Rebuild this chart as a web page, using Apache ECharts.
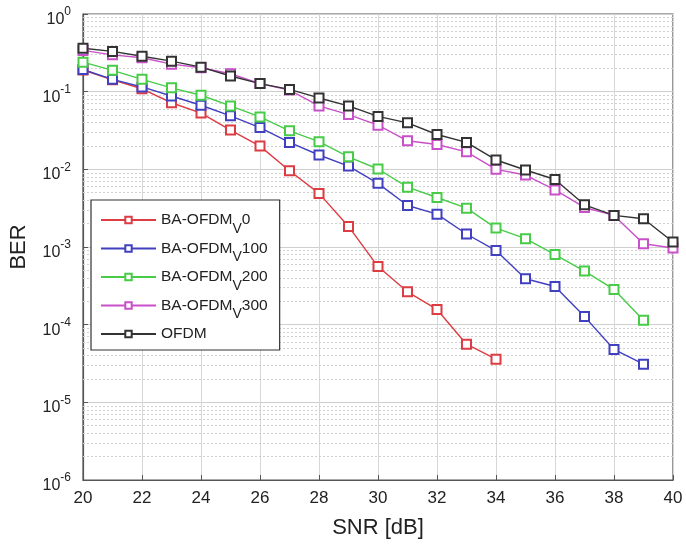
<!DOCTYPE html>
<html>
<head>
<meta charset="utf-8">
<script src="https://cdn.jsdelivr.net/npm/echarts@6/dist/echarts.min.js"></script>
<style>html,body{margin:0;padding:0;background:#fff}#c{width:686px;height:545px}</style>
</head>
<body>
<div id="c"></div>
<script>
const snr = [20,21,22,23,24,25,26,27,28,29,30,31,32,33,34,35,36,37,38,39,40];
const berV0   = [0.19,0.142,0.109,0.072,0.053,0.032,0.0199,0.0096,0.0049,0.00184,0.00056,0.000265,0.000157,0.000056,0.000036];
const berV100 = [0.193,0.144,0.115,0.088,0.0668,0.0488,0.0345,0.0222,0.0153,0.011,0.0066,0.00342,0.00265,0.00147,0.0009,0.00039,0.00031,0.000127,0.000048,0.000031];
const berV200 = [0.24,0.188,0.144,0.112,0.09,0.0655,0.0473,0.0313,0.0227,0.0145,0.0101,0.0059,0.00434,0.00316,0.00175,0.00128,0.0008,0.00049,0.000284,0.000114];
const berV300 = [0.34,0.298,0.273,0.226,0.203,0.17,0.127,0.105,0.0655,0.0507,0.037,0.0233,0.0209,0.0168,0.0100,0.00845,0.00543,0.00323,0.00255,0.0011,0.00097];
const berOFDM = [0.363,0.33,0.286,0.247,0.207,0.159,0.127,0.107,0.083,0.0655,0.048,0.0397,0.0281,0.0222,0.0132,0.0098,0.0074,0.00349,0.00255,0.00231,0.00116];
const names = ['BA-OFDM{s|V}0','BA-OFDM{s|V}100','BA-OFDM{s|V}200','BA-OFDM{s|V}300','OFDM'];
const colors = ['#dc3c42','#4040c0','#48cc48','#c850c8','#333333'];
const minorVals = [];
for (let e = -6; e < 0; e++) for (let m = 2; m <= 9; m++) minorVals.push(m * Math.pow(10, e));

const allData = [berV0, berV100, berV200, berV300, berOFDM];
const series = allData.map((arr, i) => ({
  name: names[i],
  type: 'line',
  data: arr.map((v, k) => [snr[k], v]),
  symbol: 'emptyRect',
  symbolSize: 9,
  color: colors[i],
  lineStyle: {width: 1.4, color: colors[i], type: 'solid'},
  itemStyle: {color: colors[i], borderWidth: 1.5},
  z: 3,
  animation: false
}));
series.unshift({
  type: 'line', data: [], silent: true, z: 1, animation: false,
  markLine: {
    silent: true, symbol: ['none','none'], animation: false, z: 1,
    label: {show: false},
    lineStyle: {type: [2,2], color: '#d0d0d0', width: 1},
    data: minorVals.map(v => [{coord: [20, v]}, {coord: [40, v]}])
  }
});

const chart = echarts.init(document.getElementById('c'));
chart.setOption({
  backgroundColor: '#fff',
  animation: false,
  grid: {left: 82, right: 13, top: 14, bottom: 65, show: true, borderColor: '#555', borderWidth: 1.2, backgroundColor: 'transparent'},
  legend: {
    orient: 'vertical', left: 91, top: 200, z: 20,
    backgroundColor: '#fff', borderColor: '#333', borderWidth: 1.2, borderRadius: 0,
    padding: [12, 12, 0, 9],
    itemWidth: 55, itemHeight: 8, itemGap: 4.5,
    formatter: n => n.indexOf('{s|') < 0 ? n + '{s| }' : n,
    textStyle: {
      fontFamily: 'Liberation Sans', fontSize: 15.5, color: '#222', lineHeight: 16,
      rich: {
        s: {fontSize: 14, padding: [18, 0, 0, 0], verticalAlign: 'middle', fontFamily: 'Liberation Sans', color: '#222'}
      }
    },
    data: names
  },
  xAxis: {
    type: 'value', min: 20, max: 40, interval: 2,
    name: 'SNR [dB]', nameLocation: 'middle', nameGap: 37,
    nameTextStyle: {fontFamily: 'Liberation Sans', fontSize: 22, color: '#222'},
    axisLine: {lineStyle: {color: '#555', width: 1.2}},
    axisTick: {inside: true, length: 5, lineStyle: {color: '#555'}},
    axisLabel: {fontFamily: 'Liberation Sans', fontSize: 17, color: '#222', margin: 10},
    splitLine: {show: true, lineStyle: {color: '#d6d6d6', width: 1}}
  },
  yAxis: {
    type: 'log', logBase: 10, min: 1e-6, max: 1, interval: 1,
    name: 'BER', nameLocation: 'middle', nameGap: 53,
    nameTextStyle: {fontFamily: 'Liberation Sans', fontSize: 22, color: '#222'},
    axisLine: {lineStyle: {color: '#555', width: 1.2}},
    axisTick: {inside: true, length: 5, lineStyle: {color: '#555'}},
    axisLabel: {
      margin: 12,
      formatter: v => '{b|10}{p|' + Math.round(Math.log10(v)) + '}',
      rich: {
        b: {fontFamily: 'Liberation Sans', fontSize: 16, color: '#222', lineHeight: 18, padding: [11, 0, 0, 0], verticalAlign: 'middle'},
        p: {fontFamily: 'Liberation Sans', fontSize: 12, color: '#222', lineHeight: 18, padding: [0, 0, 4, 0], verticalAlign: 'middle'}
      }
    },
    splitLine: {show: true, lineStyle: {color: '#cfcfcf', width: 1}}
  },
  series: series
});
</script>
</body>
</html>
